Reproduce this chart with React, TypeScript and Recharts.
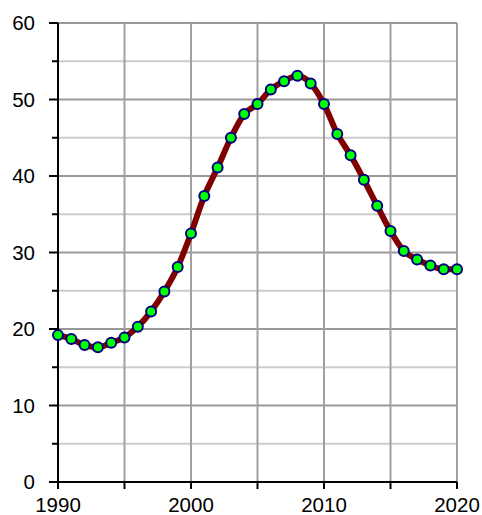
import {
  LineChart,
  Line,
  XAxis,
  YAxis,
  ReferenceLine,
} from 'recharts'

const YEARS = [
  1990, 1991, 1992, 1993, 1994, 1995, 1996, 1997, 1998, 1999,
  2000, 2001, 2002, 2003, 2004, 2005, 2006, 2007, 2008, 2009,
  2010, 2011, 2012, 2013, 2014, 2015, 2016, 2017, 2018, 2019, 2020,
]
const VALUES = [
  19.2, 18.7, 17.9, 17.6, 18.2, 18.9, 20.3, 22.3, 24.9, 28.1,
  32.5, 37.4, 41.1, 45.0, 48.1, 49.4, 51.3, 52.4, 53.1, 52.1,
  49.4, 45.5, 42.7, 39.5, 36.1, 32.8, 30.2, 29.1, 28.3, 27.8, 27.8,
]
const X_TICKS = [1990, 1995, 2000, 2005, 2010, 2015, 2020]
const X_LABELS = [1990, 2000, 2010, 2020]
const Y_TICKS = [0, 5, 10, 15, 20, 25, 30, 35, 40, 45, 50, 55, 60]
const Y_LABELS = [0, 10, 20, 30, 40, 50, 60]

const data = YEARS.map((year, i) => ({ year, value: VALUES[i] }))

const FONT = 'Arial, "Liberation Sans", sans-serif'

function YTick({ x, y, payload }: any) {
  const major = Y_LABELS.includes(payload.value)
  return (
    <g>
      <line x1={x - (major ? 9 : 6)} x2={x} y1={y} y2={y} stroke="#000" strokeWidth={2} />
      {major && (
        <text x={x - 23} y={y} dy="0.36em" textAnchor="end" fontSize={20.5} fontFamily={FONT} fill="#000">
          {payload.value}
        </text>
      )}
    </g>
  )
}

function XTick({ x, y, payload }: any) {
  const major = X_LABELS.includes(payload.value)
  return (
    <g>
      <line x1={x} x2={x} y1={y} y2={y + 7} stroke="#000" strokeWidth={2} />
      {major && (
        <text x={x} y={y + 30} textAnchor="middle" fontSize={20.5} fontFamily={FONT} fill="#000">
          {payload.value}
        </text>
      )}
    </g>
  )
}

export default function App() {
  return (
    <div style={{ position: 'absolute', left: 0, top: 0, width: 482, height: 515, background: '#fff' }}>
      <LineChart
        width={482}
        height={515}
        data={data}
        margin={{ top: 23, right: 25, bottom: 0, left: 0 }}
      >
        {Y_TICKS.map(v => (
          <ReferenceLine
            key={'h' + v}
            y={v}
            stroke={v % 10 === 0 ? '#999999' : '#cccccc'}
            strokeWidth={2}
            ifOverflow="visible"
          />
        ))}
        {X_TICKS.map(v => (
          <ReferenceLine key={'v' + v} x={v} stroke="#a0a0a0" strokeWidth={2} ifOverflow="visible" />
        ))}
        <XAxis
          dataKey="year"
          type="number"
          domain={[1990, 2020]}
          ticks={X_TICKS}
          height={33}
          tickSize={0}
          tickMargin={0}
          tickLine={false}
          axisLine={{ stroke: '#000', strokeWidth: 2 }}
          tick={<XTick />}
          interval={0}
        />
        <YAxis
          type="number"
          domain={[0, 60]}
          ticks={Y_TICKS}
          width={58}
          tickSize={0}
          tickMargin={0}
          tickLine={false}
          axisLine={{ stroke: '#000', strokeWidth: 2 }}
          tick={<YTick />}
          interval={0}
        />
        <Line
          type="monotone"
          dataKey="value"
          stroke="#800000"
          strokeWidth={6}
          dot={{ r: 5, fill: '#00ff00', stroke: '#000080', strokeWidth: 2 }}
          isAnimationActive={false}
        />
      </LineChart>
    </div>
  )
}
